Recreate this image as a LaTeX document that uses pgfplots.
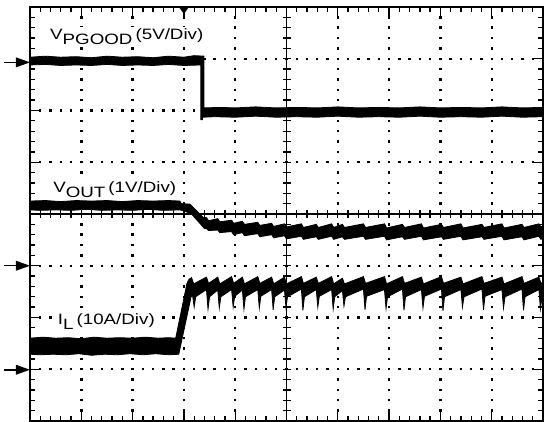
\documentclass[border=0pt]{standalone}
\usepackage{fontspec}
\setmainfont{Liberation Sans}
\usepackage{graphicx}
\usepackage{pgfplots}
\pgfplotsset{compat=1.18}

\begin{document}
\begin{tikzpicture}
\useasboundingbox (-30bp,-1bp) rectangle (514bp,421bp);
\begin{scope}[x=51.3bp,y=51.75bp]
% dotted graticule
\foreach \i in {1,2,3,4,6,7,8,9}
  \draw[line width=2.4bp,dash pattern=on 2.4bp off 7.95bp,dash phase=1.2bp] (\i,0) -- (\i,8);
\foreach \j in {1,2,3,5,6,7}
  \draw[line width=2.4bp,dash pattern=on 2.4bp off 7.86bp,dash phase=1.2bp] (0,\j) -- (10,\j);
% centre cross with ticks
\draw[line width=1.6bp] (5,0) -- (5,8);
\draw[line width=1.6bp] (0,4) -- (10,4);
\foreach \k in {1,...,49} \draw[line width=1.3bp] (\k/5,4) ++(0,-4bp) -- ++(0,8bp);
\foreach \k in {1,...,39} \draw[line width=1.3bp] (5,\k/5) ++(-4bp,0) -- ++(8bp,0);
% border ticks
\foreach \k in {1,...,49} {
  \draw[line width=1.3bp] (\k/5,8) -- ++(0,-5bp);
  \draw[line width=1.3bp] (\k/5,0) -- ++(0,5bp);}
\foreach \k in {1,...,39} {
  \draw[line width=1.3bp] (0,\k/5) -- ++(5bp,0);
  \draw[line width=1.3bp] (10,\k/5) -- ++(-5bp,0);}
\foreach \i in {1,...,9} {
  \draw[line width=1.3bp] (\i,8) -- ++(0,-9bp);
  \draw[line width=1.3bp] (\i,0) -- ++(0,9bp);}
\foreach \j in {1,...,7} {
  \draw[line width=1.3bp] (0,\j) -- ++(9bp,0);
  \draw[line width=1.3bp] (10,\j) -- ++(-9bp,0);}
% labels
\begin{scope}[every node/.style={anchor=base west,fill=white,inner sep=1bp,font=\fontsize{15bp}{18bp}\selectfont}]
\node at (0.37,7.38) {\scalebox{1.25}[1]{V\raisebox{-5bp}{PGOOD}\,(5V/Div)}};
\node at (0.43,4.41) {\scalebox{1.25}[1]{V\raisebox{-5bp}{OUT}\,(1V/Div)}};
\node at (0.52,1.87) {\scalebox{1.25}[1]{I\raisebox{-5bp}{L}\,(10A/Div)}};
\end{scope}
% ground markers and trigger marker
\foreach \y in {6.93,3.0,0.99} {
  \draw[line width=1.5bp] (0,\y) ++(-26bp,0) -- ++(14bp,0);
  \fill (0,\y) -- ++(-14bp,5bp) -- ++(0,-10bp) -- cycle;}
\fill (3,8) ++(-5bp,0) -- ++(10bp,0) -- ++(-5bp,-7bp) -- cycle;
\end{scope}

\begin{axis}[at={(0,0)},anchor=south west,scale only axis,width=513bp,height=414bp,
  xmin=0,xmax=10,ymin=0,ymax=8,hide axis,clip=false]
% V_PGOOD
\addplot[fill=black,draw=black,line width=0.8bp,mark=none] coordinates {
(0,7.03)(0.3,7.05)(0.6,7.03)(0.9,7.04)(1.2,7.02)(1.5,7.05)(1.8,7.03)(2.1,7.04)(2.4,7.02)(2.7,7.05)(3.0,7.03)(3.2,7.06)(3.39,7.05)
(3.39,6.05)(3.7,6.06)(4.0,6.05)(4.4,6.07)(4.8,6.05)(5.2,6.06)(5.6,6.05)(6.0,6.07)(6.4,6.05)(6.8,6.06)(7.2,6.05)(7.6,6.07)(8.0,6.05)(8.4,6.06)(8.8,6.05)(9.2,6.07)(9.6,6.05)(10,6.06)
(10,5.88)(9.6,5.87)(9.2,5.89)(8.8,5.87)(8.4,5.88)(8.0,5.87)(7.6,5.89)(7.2,5.87)(6.8,5.88)(6.4,5.87)(6.0,5.89)(5.6,5.87)(5.2,5.88)(4.8,5.87)(4.4,5.89)(4.0,5.87)(3.6,5.88)(3.36,5.87)(3.36,5.82)(3.33,5.82)
(3.33,6.88)(3.0,6.87)(2.7,6.89)(2.4,6.87)(2.1,6.88)(1.8,6.87)(1.5,6.89)(1.2,6.87)(0.9,6.88)(0.6,6.87)(0.3,6.89)(0,6.88)};
% V_OUT
\addplot[fill=black,draw=black,line width=0.8bp,mark=none] coordinates {
(0,4.25)(0.3,4.26)(0.6,4.24)(0.9,4.26)(1.2,4.25)(1.5,4.26)(1.8,4.24)(2.1,4.26)(2.4,4.25)(2.7,4.26)(2.92,4.25)(2.95,4.20)(3.12,4.19)(3.38,3.93)
(3.44,3.93)(3.48,3.87)(3.66,3.91)(3.70,3.85)(3.93,3.88)(3.97,3.82)(4.14,3.86)(4.18,3.80)(4.44,3.84)(4.48,3.78)(4.71,3.82)(4.75,3.76)(4.96,3.81)(5.00,3.75)(5.29,3.81)(5.33,3.74)(5.58,3.80)(5.62,3.74)(5.88,3.81)(5.92,3.74)(6.09,3.80)(6.13,3.74)(6.50,3.81)(6.54,3.74)(6.91,3.81)(6.95,3.73)(7.26,3.80)(7.30,3.74)(7.63,3.81)(7.67,3.73)(8.02,3.80)(8.06,3.74)(8.40,3.81)(8.44,3.73)(8.81,3.80)(8.85,3.74)(9.20,3.81)(9.24,3.73)(9.59,3.80)(9.63,3.74)(9.92,3.81)(9.96,3.75)(10,3.77)
(10,3.54)(9.96,3.51)(9.92,3.57)(9.63,3.50)(9.59,3.56)(9.24,3.50)(9.20,3.57)(8.85,3.51)(8.81,3.56)(8.44,3.50)(8.40,3.57)(8.06,3.51)(8.02,3.56)(7.67,3.50)(7.63,3.57)(7.30,3.51)(7.26,3.56)(6.95,3.50)(6.91,3.57)(6.54,3.51)(6.50,3.57)(6.13,3.51)(6.09,3.56)(5.92,3.51)(5.88,3.57)(5.62,3.51)(5.58,3.56)(5.33,3.51)(5.29,3.57)(5.00,3.52)(4.96,3.58)(4.75,3.54)(4.71,3.60)(4.48,3.56)(4.44,3.62)(4.18,3.58)(4.14,3.64)(3.97,3.60)(3.93,3.66)(3.70,3.64)(3.66,3.69)(3.48,3.68)(3.44,3.72)(3.40,3.72)
(3.15,4.00)(3.0,4.06)(2.92,4.08)(2.6,4.07)(2.3,4.09)(2.0,4.07)(1.7,4.08)(1.4,4.07)(1.1,4.09)(0.8,4.07)(0.5,4.08)(0.2,4.07)(0,4.08)};
% I_L
\addplot[fill=black,draw=black,line width=0.8bp,mark=none] coordinates {
(0,1.60)(0.25,1.62)(0.5,1.60)(0.75,1.61)(1.0,1.59)(1.25,1.62)(1.5,1.60)(1.75,1.61)(2.0,1.60)(2.25,1.62)(2.5,1.60)(2.7,1.61)(2.84,1.60)
(3.06,2.66)(3.10,2.74)(3.15,2.77)(3.19,2.65)
(3.44,2.78)(3.48,2.66)(3.66,2.78)(3.70,2.65)(3.93,2.79)(3.97,2.66)(4.14,2.78)(4.18,2.65)(4.44,2.79)(4.48,2.66)(4.71,2.78)(4.75,2.65)(4.96,2.78)(5.00,2.65)(5.29,2.79)(5.33,2.66)(5.58,2.78)(5.62,2.66)(5.88,2.79)(5.92,2.65)(6.09,2.76)(6.13,2.65)(6.50,2.79)(6.54,2.66)(6.91,2.79)(6.95,2.65)(7.26,2.79)(7.30,2.66)(7.63,2.78)(7.67,2.65)(8.02,2.79)(8.06,2.66)(8.40,2.78)(8.44,2.65)(8.81,2.79)(8.85,2.66)(9.20,2.78)(9.24,2.65)(9.59,2.79)(9.63,2.66)(9.92,2.78)(9.96,2.66)(10,2.68)
(10,2.44)(9.98,2.40)(9.95,2.16)(9.92,2.54)
(9.65,2.40)(9.62,2.14)(9.59,2.55)
(9.26,2.40)(9.23,2.18)(9.20,2.54)
(8.87,2.41)(8.84,2.15)(8.81,2.55)
(8.46,2.40)(8.43,2.20)(8.40,2.54)
(8.08,2.40)(8.05,2.13)(8.02,2.55)
(7.69,2.41)(7.66,2.18)(7.63,2.54)
(7.32,2.40)(7.29,2.14)(7.26,2.55)
(6.97,2.40)(6.94,2.17)(6.91,2.54)
(6.56,2.41)(6.53,2.15)(6.50,2.55)
(6.15,2.40)(6.12,2.22)(6.09,2.52)
(5.94,2.40)(5.91,2.16)(5.88,2.54)
(5.64,2.41)(5.61,2.20)(5.58,2.54)
(5.35,2.40)(5.32,2.14)(5.29,2.55)
(5.02,2.40)(4.99,2.19)(4.96,2.53)
(4.77,2.40)(4.74,2.15)(4.71,2.54)
(4.50,2.41)(4.47,2.18)(4.44,2.54)
(4.20,2.40)(4.17,2.16)(4.14,2.53)
(3.99,2.41)(3.96,2.20)(3.93,2.54)
(3.72,2.40)(3.69,2.18)(3.66,2.53)
(3.50,2.40)(3.47,2.16)(3.44,2.54)
(3.23,2.40)(3.20,2.20)(3.17,2.42)(3.14,2.40)
(2.90,1.29)(2.7,1.28)(2.45,1.30)(2.2,1.28)(1.95,1.30)(1.7,1.28)(1.45,1.29)(1.2,1.27)(0.95,1.30)(0.7,1.28)(0.45,1.29)(0.2,1.28)(0,1.29)};
\end{axis}
\begin{scope}[x=51.3bp,y=51.75bp]
\draw[line width=2bp] (0,0) rectangle (10,8);
\end{scope}
\end{tikzpicture}
\end{document}
